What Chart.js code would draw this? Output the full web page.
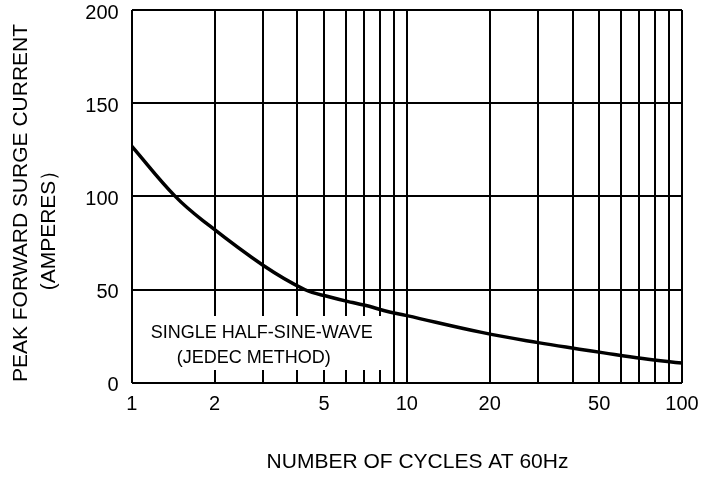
<!DOCTYPE html>
<html>
<head>
<meta charset="utf-8">
<script src="https://cdn.jsdelivr.net/npm/chart.js@4"></script>
<style>
html,body{margin:0;padding:0;background:#fff}
#wrap{width:712px;height:479px;position:relative}
</style>
</head>
<body>
<div id="wrap"><canvas id="c"></canvas></div>
<script>
// ---- data ----
const cycles       = [1, 1.44, 1.87, 3.0, 4.25, 5.25, 6.35, 7.3, 8.3, 10, 18.7, 30, 42.4, 52, 72, 100];
const surgeCurrent = [127, 100, 85.5, 63, 50, 46, 43, 41, 38.6, 36, 27, 21.5, 18, 16, 13, 10.5];

const xGridValues = [1,2,3,4,5,6,7,8,9,10,20,30,40,50,60,70,80,90,100];
const xTickLabels = [1,2,5,10,20,50,100];
const yTickValues = [0,50,100,150,200];

const yTitleLines = ['PEAK FORWARD SURGE CURRENT', '(AMPERES）'];
const xTitleText  = 'NUMBER OF CYCLES AT 60Hz';
const noteLines   = ['SINGLE HALF-SINE-WAVE', '(JEDEC METHOD)'];

const FONT = "'Liberation Sans', Arial, Helvetica, sans-serif";

const textPlugin = {
  id: 'textPlugin',
  beforeDatasetsDraw(chart) {
    const ctx = chart.ctx, a = chart.chartArea;
    ctx.save();
    // white box behind the note (interrupts grid lines)
    ctx.fillStyle = '#fff';
    ctx.fillRect(a.left + 2.5, a.top + 306, 256, 54);
    ctx.fillStyle = '#000';
    ctx.font = '18px ' + FONT;
    ctx.textAlign = 'left';
    ctx.textBaseline = 'alphabetic';
    ctx.fillText(noteLines[0], a.left + 19, a.top + 327.5);
    ctx.fillText(noteLines[1], a.left + 45, a.top + 352.5);
    ctx.restore();
  },
  afterDraw(chart) {
    const ctx = chart.ctx;
    ctx.save();
    ctx.fillStyle = '#000';
    ctx.font = '21px ' + FONT;
    ctx.textAlign = 'center';
    ctx.textBaseline = 'middle';
    // y title, two rotated lines
    ctx.save();
    ctx.translate(21, 203);
    ctx.rotate(-Math.PI / 2);
    ctx.fillText(yTitleLines[0], 0, 0);
    ctx.restore();
    ctx.save();
    ctx.translate(49, 225);
    ctx.rotate(-Math.PI / 2);
    ctx.fillText(yTitleLines[1], 0, 0);
    ctx.restore();
    // x title
    ctx.fillText(xTitleText, 417.5, 462.5);
    ctx.restore();
  }
};

new Chart(document.getElementById('c'), {
  type: 'line',
  data: {
    datasets: [{
      data: cycles.map((c, i) => ({x: c, y: surgeCurrent[i]})),
      borderColor: '#000',
      borderWidth: 3.5,
      pointRadius: 0,
      fill: false,
      tension: 0.4
    }]
  },
  options: {
    responsive: true,
    maintainAspectRatio: false,
    animation: false,
    layout: { padding: { top: 10, right: 30, bottom: 0, left: 0 } },
    plugins: { legend: { display: false }, tooltip: { enabled: false } },
    scales: {
      x: {
        type: 'logarithmic',
        min: 1, max: 100,
        afterBuildTicks: s => { s.ticks = xGridValues.map(v => ({ value: v })); },
        ticks: {
          autoSkip: false, maxRotation: 0, minRotation: 0,
          color: '#000', font: { size: 20, family: FONT }, padding: 10,
          callback: v => xTickLabels.includes(v) ? String(v) : ''
        },
        grid: { color: '#000', lineWidth: 2, drawTicks: false },
        border: { display: false },
        afterFit: s => { s.height = 96.3; s.paddingLeft = 0; s.paddingRight = 0; }
      },
      y: {
        type: 'linear',
        min: 0, max: 200,
        afterBuildTicks: s => { s.ticks = yTickValues.map(v => ({ value: v })); },
        ticks: {
          color: '#000', font: { size: 20, family: FONT }, padding: 13, labelOffset: 3
        },
        grid: { color: '#000', lineWidth: 2, drawTicks: false },
        border: { display: false },
        afterFit: s => { s.width = 131.7; s.paddingTop = 0; s.paddingBottom = 0; }
      }
    }
  },
  plugins: [textPlugin]
});
</script>
</body>
</html>
